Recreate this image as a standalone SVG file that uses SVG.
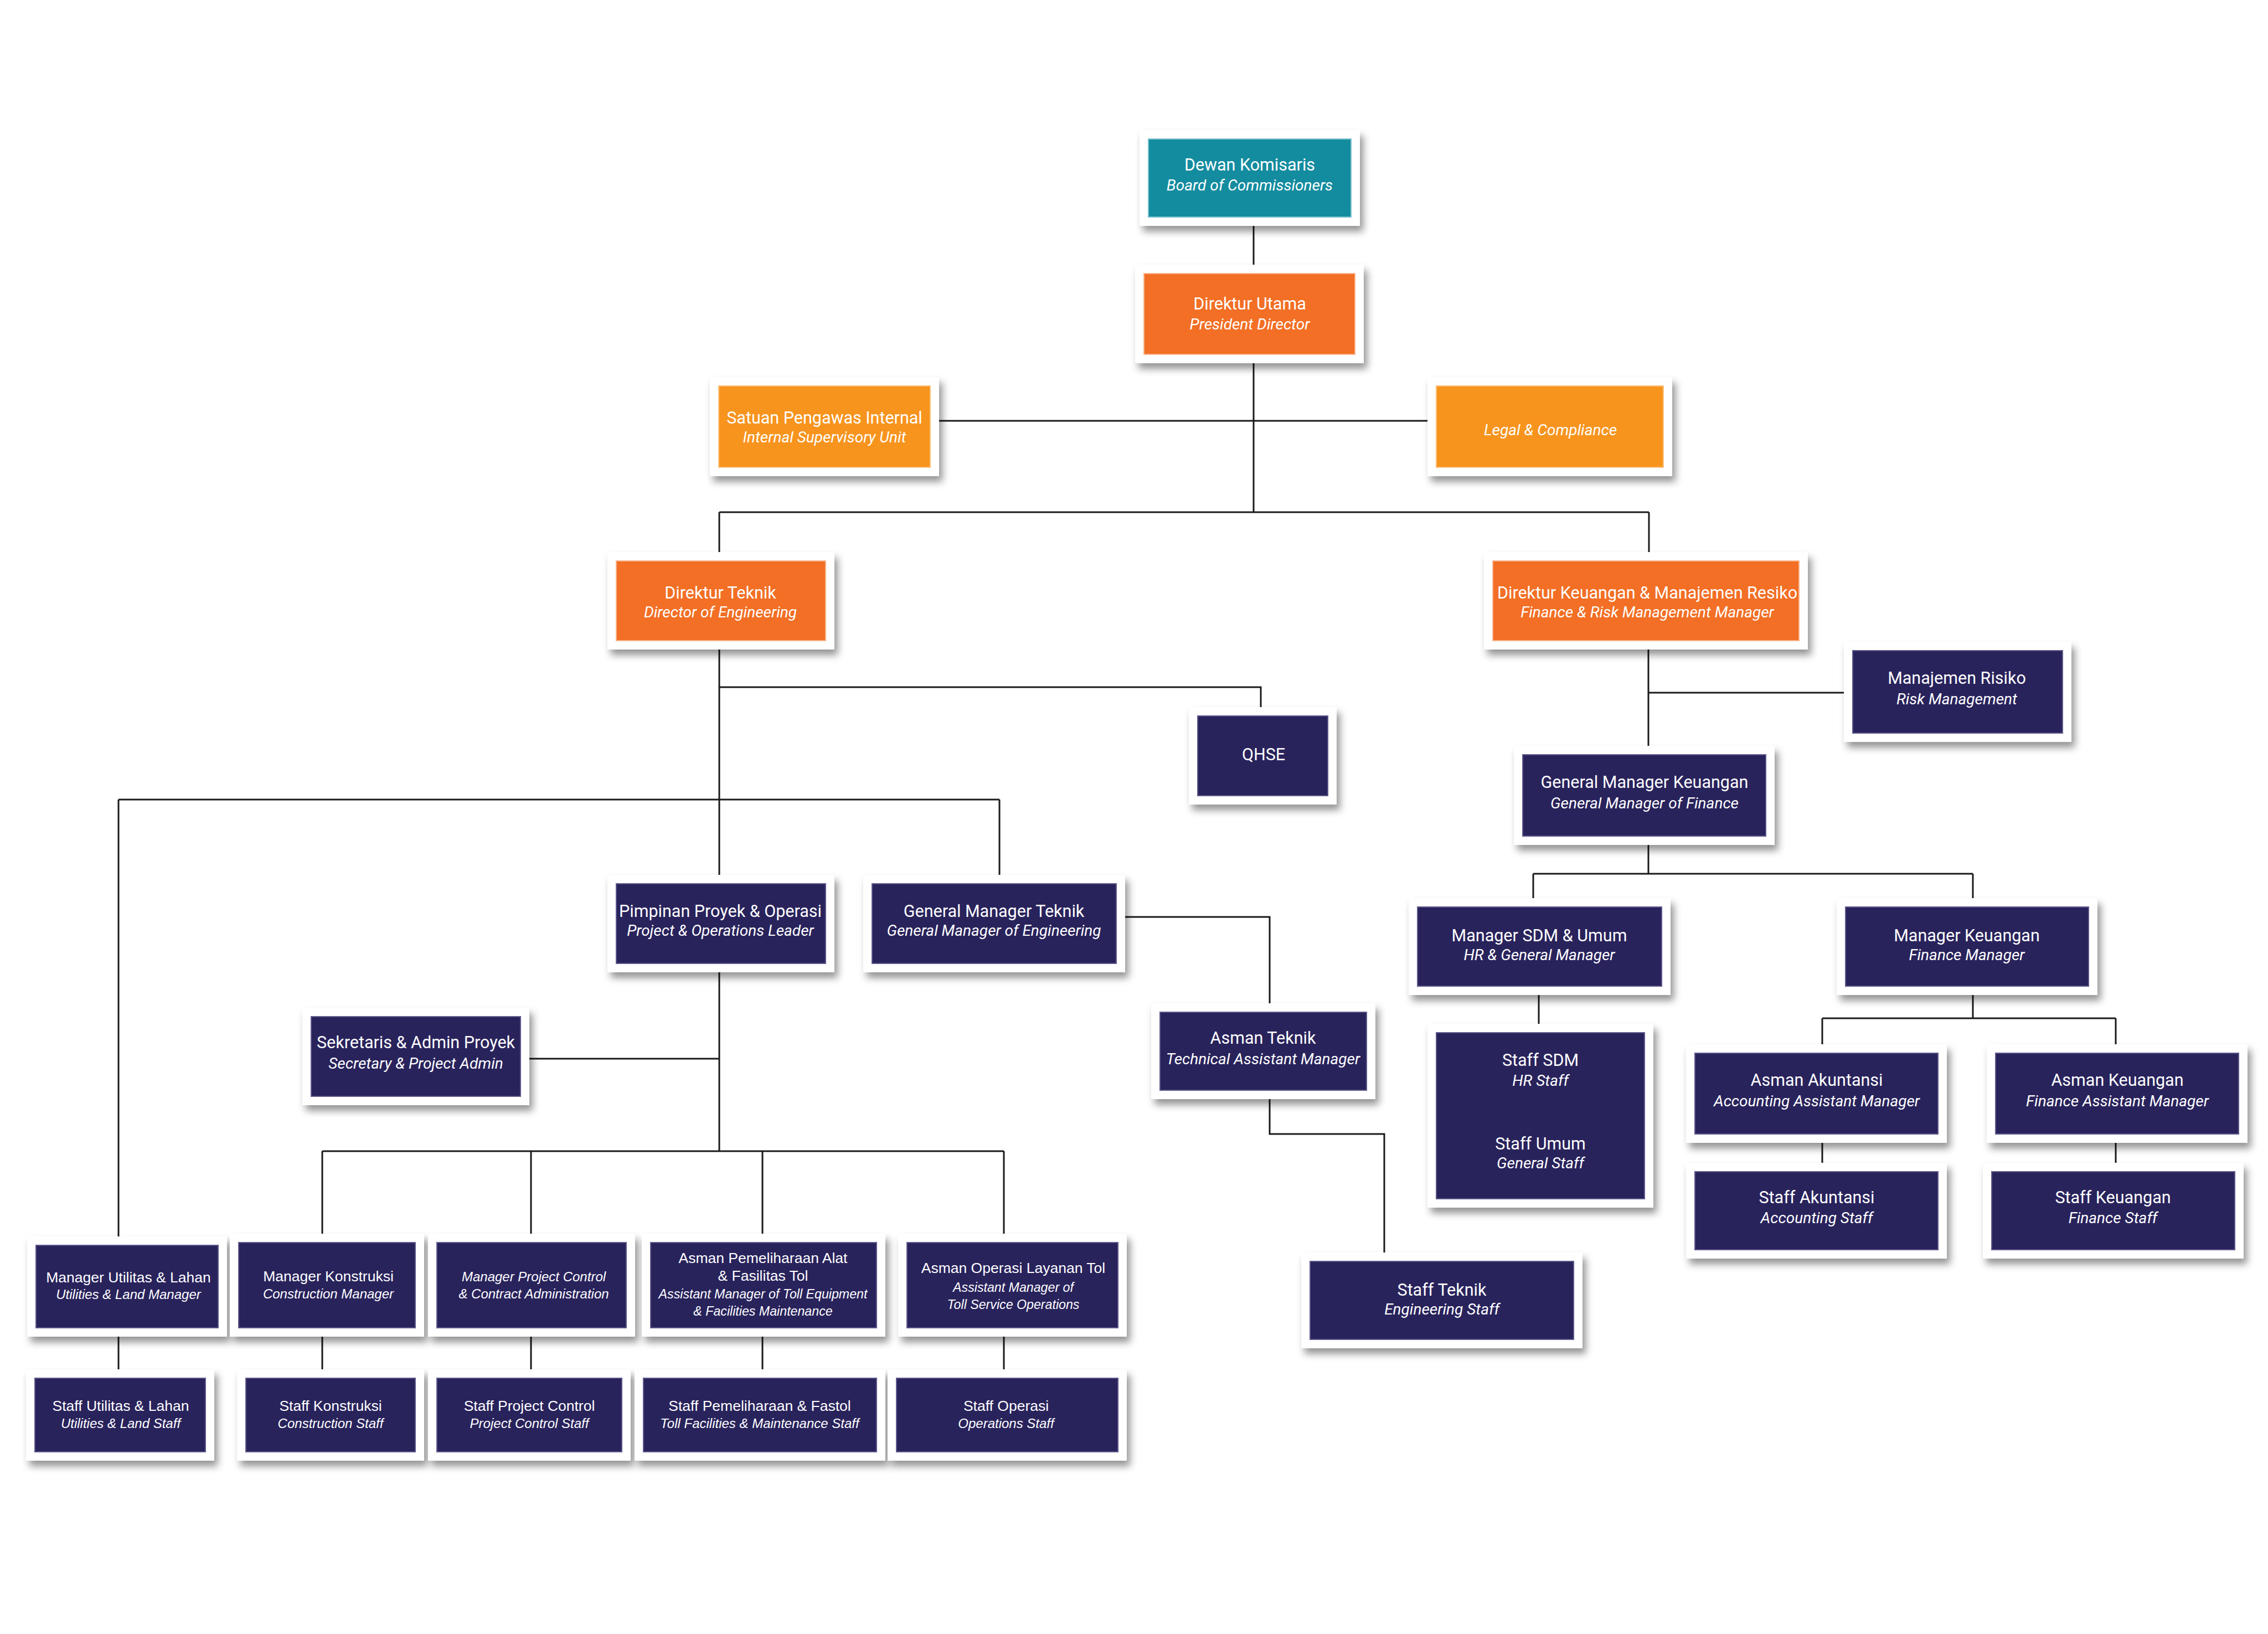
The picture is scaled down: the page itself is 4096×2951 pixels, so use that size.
<svg xmlns="http://www.w3.org/2000/svg" width="4096" height="2951" viewBox="0 0 4096 2951">
<defs>
<filter id="sh" x="-20%" y="-30%" width="150%" height="170%">
<feDropShadow dx="6" dy="10" stdDeviation="7" flood-color="#000" flood-opacity="0.42"/>
</filter>
<style>
.fr{fill:#fff;filter:url(#sh)}
.teal{fill:#148C9F;stroke:#7cc3cd;stroke-width:2}
.or{fill:#F26F25;stroke:#f9b58e;stroke-width:2}
.yo{fill:#F7941E;stroke:#fbc27d;stroke-width:2}
.nv{fill:#29235C;stroke:#5f5a8c;stroke-width:2}
text{font-family:Roboto,"Liberation Sans",sans-serif;fill:#fff;text-anchor:middle}
.a{font-size:30.5px}
.ai{font-size:28px;font-style:italic}
.b,.bi,.c,.ci{font-family:"Liberation Sans",Arial,sans-serif}
.b{font-size:26.5px}
.bi{font-size:24px;font-style:italic}
.c{font-size:26.5px}
.ci{font-size:23.2px;font-style:italic}
.ln{fill:none;stroke:#1a1a1a;stroke-width:3}
</style>
</defs>
<rect width="4096" height="2951" fill="#fff"/>
<g id="connectors" class="ln">
<path d="M2264,392V494"/>
<path d="M2264,640V925"/>
<path d="M1680,760H2594"/>
<path d="M1299,925H2978"/>
<path d="M1299,925V1013M2978,925V1013"/>
<path d="M1299,1157V1596"/>
<path d="M1299,1241H2277V1293"/>
<path d="M214,1444H1805"/>
<path d="M214,1444V2249M1805,1444V1596"/>
<path d="M1299,1740V2079"/>
<path d="M940,1912H1299"/>
<path d="M582,2079H1813"/>
<path d="M582,2079V2244M959,2079V2244M1377,2079V2244M1813,2079V2244"/>
<path d="M214,2398V2489M582,2398V2489M959,2398V2489M1377,2398V2489M1813,2398V2489"/>
<path d="M2016,1656H2293V1828"/>
<path d="M2293,1969V2048H2500V2278"/>
<path d="M2977,1157V1363"/>
<path d="M2977,1251H3346"/>
<path d="M2977,1510V1578"/>
<path d="M2769,1578H3563"/>
<path d="M2769,1578V1638M3563,1578V1638"/>
<path d="M2779,1781V1865"/>
<path d="M3563,1781V1839"/>
<path d="M3291,1839H3821"/>
<path d="M3291,1839V1902M3821,1839V1902"/>
<path d="M3291,2048V2116M3821,2048V2116"/>
</g>
<g id="n-dewan"><rect class="fr" x="2058" y="235" width="398" height="173"/><rect class="teal" x="2074" y="251" width="366" height="141"/><text class="a" x="2257" y="308">Dewan Komisaris</text><text class="ai" x="2257" y="344">Board of Commissioners</text></g>
<g id="n-dirut"><rect class="fr" x="2050" y="478" width="413" height="178"/><rect class="or" x="2066" y="494" width="381" height="146"/><text class="a" x="2257" y="559">Direktur Utama</text><text class="ai" x="2257" y="595">President Director</text></g>
<g id="n-spi"><rect class="fr" x="1282" y="681" width="414" height="179"/><rect class="yo" x="1298" y="697" width="382" height="147"/><text class="a" x="1489" y="765">Satuan Pengawas Internal</text><text class="ai" x="1489" y="799">Internal Supervisory Unit</text></g>
<g id="n-legal"><rect class="fr" x="2578" y="681" width="442" height="179"/><rect class="yo" x="2594" y="697" width="410" height="147"/><text class="ai" x="2800" y="786">Legal &amp; Compliance</text></g>
<g id="n-dirtek"><rect class="fr" x="1097" y="997" width="410" height="176"/><rect class="or" x="1113" y="1013" width="378" height="144"/><text class="a" x="1301" y="1081">Direktur Teknik</text><text class="ai" x="1301" y="1115">Director of Engineering</text></g>
<g id="n-dirkeu"><rect class="fr" x="2680" y="997" width="585" height="176"/><rect class="or" x="2696" y="1013" width="553" height="144"/><text class="a" x="2975" y="1081">Direktur Keuangan &amp; Manajemen Resiko</text><text class="ai" x="2975" y="1115">Finance &amp; Risk Management Manager</text></g>
<g id="n-risiko"><rect class="fr" x="3330" y="1159" width="411" height="181"/><rect class="nv" x="3346" y="1175" width="379" height="149"/><text class="a" x="3534" y="1235">Manajemen Risiko</text><text class="ai" x="3534" y="1272">Risk Management</text></g>
<g id="n-qhse"><rect class="fr" x="2147" y="1277" width="267" height="176"/><rect class="nv" x="2163" y="1293" width="235" height="144"/><text class="a" x="2282" y="1373">QHSE</text></g>
<g id="n-gmkeu"><rect class="fr" x="2734" y="1347" width="471" height="179"/><rect class="nv" x="2750" y="1363" width="439" height="147"/><text class="a" x="2970" y="1423">General Manager Keuangan</text><text class="ai" x="2970" y="1460">General Manager of Finance</text></g>
<g id="n-pimpro"><rect class="fr" x="1097" y="1580" width="410" height="176"/><rect class="nv" x="1113" y="1596" width="378" height="144"/><text class="a" x="1301" y="1656">Pimpinan Proyek &amp; Operasi</text><text class="ai" x="1301" y="1690">Project &amp; Operations Leader</text></g>
<g id="n-gmtek"><rect class="fr" x="1559" y="1580" width="473" height="176"/><rect class="nv" x="1575" y="1596" width="441" height="144"/><text class="a" x="1795" y="1656">General Manager Teknik</text><text class="ai" x="1795" y="1690">General Manager of Engineering</text></g>
<g id="n-msdm"><rect class="fr" x="2544" y="1622" width="473" height="175"/><rect class="nv" x="2560" y="1638" width="441" height="143"/><text class="a" x="2780" y="1700">Manager SDM &amp; Umum</text><text class="ai" x="2780" y="1734">HR &amp; General Manager</text></g>
<g id="n-mkeu"><rect class="fr" x="3317" y="1622" width="471" height="175"/><rect class="nv" x="3333" y="1638" width="439" height="143"/><text class="a" x="3552" y="1700">Manager Keuangan</text><text class="ai" x="3552" y="1734">Finance Manager</text></g>
<g id="n-sekre"><rect class="fr" x="546" y="1820" width="410" height="176"/><rect class="nv" x="562" y="1836" width="378" height="144"/><text class="a" x="751" y="1893">Sekretaris &amp; Admin Proyek</text><text class="ai" x="751" y="1930">Secretary &amp; Project Admin</text></g>
<g id="n-asmantek"><rect class="fr" x="2079" y="1812" width="405" height="173"/><rect class="nv" x="2095" y="1828" width="373" height="141"/><text class="a" x="2281" y="1885">Asman Teknik</text><text class="ai" x="2281" y="1922">Technical Assistant Manager</text></g>
<g id="n-staffsdm"><rect class="fr" x="2578" y="1849" width="408" height="332"/><rect class="nv" x="2594" y="1865" width="376" height="300"/><text class="a" x="2782" y="1925">Staff SDM</text><text class="ai" x="2782" y="1961">HR Staff</text><text class="a" x="2782" y="2076">Staff Umum</text><text class="ai" x="2782" y="2110">General Staff</text></g>
<g id="n-asmanakt"><rect class="fr" x="3045" y="1886" width="471" height="178"/><rect class="nv" x="3061" y="1902" width="439" height="146"/><text class="a" x="3281" y="1961">Asman Akuntansi</text><text class="ai" x="3281" y="1998">Accounting Assistant Manager</text></g>
<g id="n-asmankeu"><rect class="fr" x="3588" y="1886" width="471" height="178"/><rect class="nv" x="3604" y="1902" width="439" height="146"/><text class="a" x="3824" y="1961">Asman Keuangan</text><text class="ai" x="3824" y="1998">Finance Assistant Manager</text></g>
<g id="n-staffakt"><rect class="fr" x="3045" y="2100" width="471" height="173"/><rect class="nv" x="3061" y="2116" width="439" height="141"/><text class="a" x="3281" y="2173">Staff Akuntansi</text><text class="ai" x="3281" y="2209">Accounting Staff</text></g>
<g id="n-staffkeu"><rect class="fr" x="3581" y="2100" width="471" height="173"/><rect class="nv" x="3597" y="2116" width="439" height="141"/><text class="a" x="3816" y="2173">Staff Keuangan</text><text class="ai" x="3816" y="2209">Finance Staff</text></g>
<g id="n-stafftek"><rect class="fr" x="2350" y="2262" width="508" height="173"/><rect class="nv" x="2366" y="2278" width="476" height="141"/><text class="a" x="2604" y="2340">Staff Teknik</text><text class="ai" x="2604" y="2374">Engineering Staff</text></g>
<g id="n-mutil"><rect class="fr" x="49" y="2233" width="361" height="181"/><rect class="nv" x="65" y="2249" width="329" height="149"/><text class="b" x="232" y="2316">Manager Utilitas &amp; Lahan</text><text class="bi" x="232" y="2346">Utilities &amp; Land Manager</text></g>
<g id="n-mkons"><rect class="fr" x="415" y="2228" width="351" height="186"/><rect class="nv" x="431" y="2244" width="319" height="154"/><text class="b" x="593" y="2314">Manager Konstruksi</text><text class="bi" x="593" y="2345">Construction Manager</text></g>
<g id="n-mpc"><rect class="fr" x="773" y="2228" width="374" height="186"/><rect class="nv" x="789" y="2244" width="342" height="154"/><text class="bi" x="964" y="2314">Manager Project Control</text><text class="bi" x="964" y="2345">&amp; Contract Administration</text></g>
<g id="n-asmanpml"><rect class="fr" x="1159" y="2228" width="440" height="186"/><rect class="nv" x="1175" y="2244" width="408" height="154"/><text class="c" x="1378" y="2281">Asman Pemeliharaan Alat</text><text class="c" x="1378" y="2313">&amp; Fasilitas Tol</text><text class="ci" x="1378" y="2345">Assistant Manager of Toll Equipment</text><text class="ci" x="1378" y="2376">&amp; Facilities Maintenance</text></g>
<g id="n-asmanops"><rect class="fr" x="1622" y="2228" width="413" height="186"/><rect class="nv" x="1638" y="2244" width="381" height="154"/><text class="b" x="1830" y="2299">Asman Operasi Layanan Tol</text><text class="ci" x="1830" y="2333">Assistant Manager of</text><text class="ci" x="1830" y="2364">Toll Service Operations</text></g>
<g id="n-sutil"><rect class="fr" x="47" y="2473" width="340" height="165"/><rect class="nv" x="63" y="2489" width="308" height="133"/><text class="b" x="218" y="2548">Staff Utilitas &amp; Lahan</text><text class="bi" x="218" y="2579">Utilities &amp; Land Staff</text></g>
<g id="n-skons"><rect class="fr" x="428" y="2473" width="338" height="165"/><rect class="nv" x="444" y="2489" width="306" height="133"/><text class="b" x="597" y="2548">Staff Konstruksi</text><text class="bi" x="597" y="2579">Construction Staff</text></g>
<g id="n-spc"><rect class="fr" x="773" y="2473" width="366" height="165"/><rect class="nv" x="789" y="2489" width="334" height="133"/><text class="b" x="956" y="2548">Staff Project Control</text><text class="bi" x="956" y="2579">Project Control Staff</text></g>
<g id="n-spml"><rect class="fr" x="1146" y="2473" width="453" height="165"/><rect class="nv" x="1162" y="2489" width="421" height="133"/><text class="b" x="1372" y="2548">Staff Pemeliharaan &amp; Fastol</text><text class="bi" x="1372" y="2579">Toll Facilities &amp; Maintenance Staff</text></g>
<g id="n-sops"><rect class="fr" x="1603" y="2473" width="432" height="165"/><rect class="nv" x="1619" y="2489" width="400" height="133"/><text class="b" x="1817" y="2548">Staff Operasi</text><text class="bi" x="1817" y="2579">Operations Staff</text></g>
</svg>
